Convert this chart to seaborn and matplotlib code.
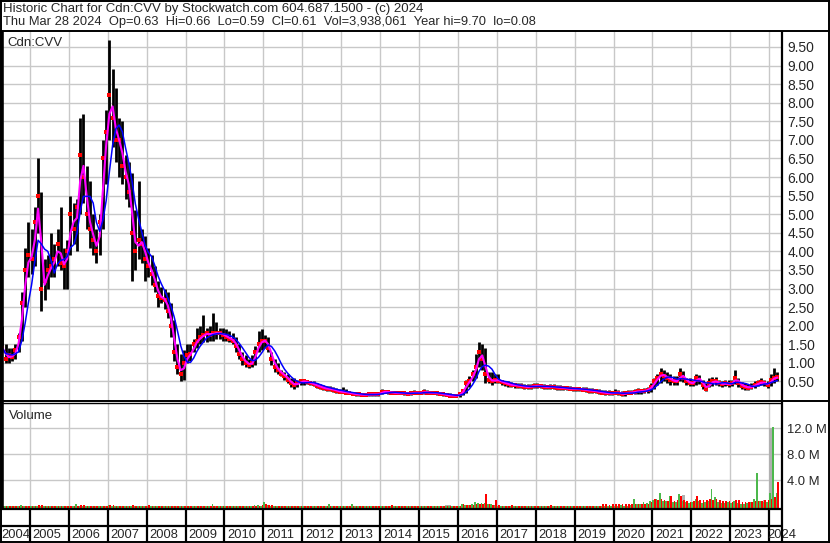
import matplotlib
matplotlib.use("Agg")
import matplotlib.pyplot as plt
import numpy as np
import pandas as pd
import seaborn as sns

# monthly readings, Apr 2004 .. Mar 2024 (price in $)
hi = [2.0, 1.5, 1.4, 1.4, 1.5, 1.8, 2.9, 4.1, 4.8,
      4.6, 5.2, 6.5, 5.6, 3.8, 3.9, 4.5, 4.2, 4.6, 5.2, 4.1, 4.3,
      5.5, 5.3, 5.4, 7.6, 7.7, 6.3, 5.9, 5.0, 4.6, 5.0, 7.0, 7.8,
      9.7, 8.9, 8.4, 7.6, 7.5, 6.6, 6.4, 6.1, 5.1, 5.9, 4.6, 4.4,
      4.1, 3.9, 3.6, 3.2, 3.05, 3.0, 2.9, 2.6, 2.15, 1.5, 1.25, 1.35,
      1.5, 1.5, 1.65, 1.95, 2.0, 2.3, 1.95, 2.0, 2.35, 2.1, 1.95, 1.95,
      1.9, 1.85, 1.8, 1.7, 1.5, 1.3, 1.2, 1.1, 1.2, 1.45, 1.85, 1.9,
      1.75, 1.7, 1.3, 1.1, 1.0, 0.8, 0.75, 0.7, 0.6, 0.6, 0.55, 0.55,
      0.55, 0.55, 0.52, 0.5, 0.45, 0.42, 0.4, 0.38, 0.38, 0.35, 0.32, 0.3,
      0.35, 0.3, 0.25, 0.22, 0.2, 0.2, 0.18, 0.2, 0.2, 0.22, 0.2, 0.2,
      0.3, 0.28, 0.26, 0.25, 0.24, 0.24, 0.24, 0.22, 0.22, 0.25, 0.26, 0.25,
      0.25, 0.3, 0.28, 0.24, 0.24, 0.22, 0.22, 0.2, 0.18, 0.18, 0.16, 0.16,
      0.2, 0.3, 0.55, 0.65, 0.8, 1.25, 1.55, 1.5, 1.4, 0.75, 0.75, 0.7,
      0.7, 0.55, 0.5, 0.5, 0.48, 0.46, 0.45, 0.45, 0.44, 0.42, 0.42, 0.45,
      0.45, 0.44, 0.42, 0.4, 0.42, 0.42, 0.4, 0.4, 0.38, 0.38, 0.37, 0.36,
      0.36, 0.35, 0.34, 0.34, 0.33, 0.32, 0.3, 0.3, 0.28, 0.26, 0.26, 0.25,
      0.3, 0.28, 0.25, 0.25, 0.27, 0.28, 0.3, 0.32, 0.3, 0.32, 0.35, 0.45,
      0.58, 0.7, 0.85, 0.8, 0.75, 0.7, 0.65, 0.65, 0.85, 0.78, 0.6, 0.58,
      0.55, 0.7, 0.68, 0.55, 0.45, 0.6, 0.62, 0.62, 0.55, 0.52, 0.55, 0.55,
      0.55, 0.8, 0.6, 0.48, 0.45, 0.42, 0.45, 0.5, 0.55, 0.6, 0.55, 0.5,
      0.7, 0.85, 0.75]
lo = [1.3, 1.0, 1.0, 1.05, 1.1, 1.3, 1.6, 2.5, 3.3,
      3.4, 3.6, 4.5, 2.4, 2.7, 3.0, 3.3, 3.3, 3.6, 3.5, 3.0, 3.0,
      3.9, 4.2, 4.0, 5.0, 5.3, 4.6, 4.1, 3.9, 3.7, 3.9, 4.6, 5.8,
      7.0, 6.8, 6.4, 6.0, 5.8, 5.4, 5.2, 3.2, 3.5, 3.8, 3.7, 3.2,
      3.3, 3.1, 2.9, 2.5, 2.6, 2.45, 2.2, 1.7, 1.05, 0.7, 0.5, 0.55,
      1.0, 1.05, 1.3, 1.4, 1.5, 1.55, 1.55, 1.6, 1.6, 1.65, 1.65, 1.6,
      1.6, 1.55, 1.5, 1.3, 1.1, 0.95, 0.9, 0.85, 0.9, 0.95, 1.3, 1.35,
      1.4, 1.3, 0.95, 0.75, 0.7, 0.65, 0.55, 0.45, 0.35, 0.3, 0.35, 0.4,
      0.4, 0.42, 0.4, 0.38, 0.32, 0.3, 0.28, 0.25, 0.25, 0.22, 0.2, 0.18,
      0.18, 0.18, 0.16, 0.14, 0.12, 0.12, 0.11, 0.11, 0.12, 0.12, 0.12, 0.12,
      0.15, 0.18, 0.17, 0.16, 0.15, 0.15, 0.15, 0.14, 0.13, 0.14, 0.16, 0.15,
      0.15, 0.16, 0.16, 0.15, 0.15, 0.14, 0.14, 0.12, 0.1, 0.1, 0.09, 0.08,
      0.09, 0.14, 0.2, 0.35, 0.5, 0.6, 0.9, 0.8, 0.45, 0.45, 0.4, 0.45,
      0.45, 0.4, 0.38, 0.36, 0.35, 0.33, 0.32, 0.33, 0.3, 0.3, 0.3, 0.32,
      0.32, 0.31, 0.3, 0.3, 0.3, 0.3, 0.28, 0.28, 0.27, 0.26, 0.26, 0.25,
      0.25, 0.24, 0.23, 0.22, 0.2, 0.2, 0.18, 0.16, 0.15, 0.14, 0.13, 0.13,
      0.15, 0.14, 0.1, 0.12, 0.15, 0.15, 0.16, 0.17, 0.17, 0.18, 0.2, 0.22,
      0.3, 0.4, 0.45, 0.5, 0.45, 0.4, 0.4, 0.4, 0.5, 0.48, 0.4, 0.38,
      0.38, 0.4, 0.42, 0.3, 0.25, 0.35, 0.38, 0.4, 0.38, 0.35, 0.38, 0.35,
      0.38, 0.42, 0.35, 0.3, 0.28, 0.28, 0.3, 0.33, 0.38, 0.4, 0.38, 0.33,
      0.38, 0.45, 0.5]
cl = [1.4, 1.1, 1.2, 1.15, 1.35, 1.7, 2.6, 3.5, 3.9,
      3.8, 4.8, 5.5, 3.0, 3.2, 3.5, 3.6, 3.8, 4.2, 3.7, 3.6, 4.0,
      5.0, 4.6, 5.2, 6.6, 6.0, 5.0, 4.6, 4.3, 4.0, 4.8, 6.5, 7.2,
      8.2, 7.6, 7.0, 7.0, 6.3, 6.0, 5.6, 4.5, 4.0, 4.3, 4.2, 3.8,
      3.6, 3.4, 3.1, 2.8, 2.75, 2.7, 2.4, 2.0, 1.3, 0.9, 0.7, 1.0,
      1.2, 1.25, 1.5, 1.6, 1.7, 1.75, 1.8, 1.75, 1.8, 1.8, 1.8, 1.75,
      1.7, 1.65, 1.6, 1.45, 1.25, 1.1, 1.0, 0.95, 1.0, 1.3, 1.5, 1.6,
      1.6, 1.4, 1.1, 0.9, 0.8, 0.7, 0.65, 0.55, 0.45, 0.4, 0.45, 0.5,
      0.5, 0.48, 0.45, 0.42, 0.38, 0.35, 0.32, 0.3, 0.3, 0.27, 0.25, 0.22,
      0.22, 0.2, 0.19, 0.17, 0.15, 0.15, 0.14, 0.14, 0.15, 0.15, 0.15, 0.16,
      0.22, 0.22, 0.21, 0.2, 0.19, 0.18, 0.19, 0.18, 0.17, 0.18, 0.2, 0.19,
      0.19, 0.22, 0.2, 0.19, 0.19, 0.18, 0.17, 0.15, 0.13, 0.12, 0.12, 0.11,
      0.15, 0.25, 0.45, 0.5, 0.7, 0.9, 1.3, 1.1, 0.7, 0.55, 0.5, 0.55,
      0.52, 0.48, 0.45, 0.42, 0.4, 0.4, 0.38, 0.38, 0.35, 0.35, 0.36, 0.38,
      0.38, 0.37, 0.35, 0.35, 0.36, 0.35, 0.33, 0.33, 0.32, 0.31, 0.3, 0.3,
      0.3, 0.29, 0.28, 0.27, 0.25, 0.25, 0.23, 0.22, 0.2, 0.19, 0.18, 0.18,
      0.2, 0.2, 0.15, 0.18, 0.2, 0.2, 0.22, 0.24, 0.23, 0.25, 0.28, 0.35,
      0.5, 0.6, 0.7, 0.65, 0.6, 0.55, 0.5, 0.5, 0.7, 0.6, 0.5, 0.45,
      0.45, 0.6, 0.55, 0.4, 0.3, 0.45, 0.5, 0.5, 0.45, 0.42, 0.45, 0.42,
      0.45, 0.6, 0.45, 0.38, 0.35, 0.33, 0.36, 0.4, 0.45, 0.48, 0.45, 0.4,
      0.55, 0.6, 0.61]

# daily-volume peaks per month, millions of shares
vol_up = [0.05, 0.08, 0.05, 0.05, 0.08, 0.1, 0.15, 0.1, 0.08,
          0.1, 0.08, 0.12, 0.1, 0.05, 0.08, 0.05, 0.1, 0.08, 0.05, 0.08, 0.1,
          0.1, 0.08, 0.3, 0.1, 0.08, 0.05, 0.05, 0.08, 0.05, 0.1, 0.1, 0.12,
          0.15, 0.1, 0.08, 0.05, 0.05, 0.05, 0.05, 0.1, 0.05, 0.05, 0.05, 0.08,
          0.1, 0.05, 0.05, 0.05, 0.05, 0.05, 0.05, 0.05, 0.08, 0.05, 0.1, 0.05,
          0.05, 0.05, 0.08, 0.1, 0.05, 0.1, 0.05, 0.05, 0.4, 0.1, 0.05, 0.05,
          0.05, 0.05, 0.05, 0.05, 0.05, 0.05, 0.05, 0.05, 0.05, 0.15, 0.2, 0.1,
          0.6, 0.15, 0.05, 0.05, 0.05, 0.05, 0.05, 0.05, 0.05, 0.05, 0.05, 0.05,
          0.05, 0.05, 0.05, 0.05, 0.05, 0.05, 0.05, 0.05, 0.3, 0.1, 0.05, 0.05,
          0.05, 0.05, 0.1, 0.3, 0.05, 0.05, 0.05, 0.05, 0.05, 0.05, 0.05, 0.05,
          0.1, 0.05, 0.05, 0.05, 0.05, 0.05, 0.05, 0.05, 0.05, 0.05, 0.05, 0.05,
          0.05, 0.1, 0.05, 0.05, 0.05, 0.05, 0.05, 0.05, 0.05, 0.05, 0.05, 0.05,
          0.05, 0.35, 0.2, 0.15, 0.3, 0.7, 0.5, 0.55, 0.5, 0.3, 0.3, 0.2,
          0.1, 0.1, 0.05, 0.05, 0.05, 0.05, 0.1, 0.05, 0.05, 0.05, 0.05, 0.05,
          0.05, 0.05, 0.1, 0.05, 0.05, 0.05, 0.05, 0.05, 0.05, 0.05, 0.05, 0.05,
          0.05, 0.05, 0.05, 0.05, 0.05, 0.05, 0.1, 0.05, 0.05, 0.1, 0.05, 0.05,
          0.1, 0.1, 0.15, 0.1, 0.1, 0.15, 1.1, 0.3, 0.3, 0.6, 0.5, 0.8,
          1.0, 1.2, 2.0, 0.8, 0.8, 1.6, 0.6, 0.7, 1.9, 0.8, 0.6, 0.5,
          0.6, 1.2, 0.8, 0.5, 0.6, 0.8, 2.6, 1.4, 0.6, 0.5, 0.5, 0.6,
          0.5, 0.8, 0.5, 0.4, 0.4, 0.5, 0.6, 1.2, 5.2, 0.8, 0.6, 0.7,
          2.1, 12.2, 2.1]
vol_dn = [0.1, 0.1, 0.05, 0.08, 0.05, 0.05, 0.1, 0.12, 0.1,
          0.1, 0.1, 0.15, 0.2, 0.1, 0.08, 0.1, 0.08, 0.1, 0.1, 0.08, 0.08,
          0.08, 0.1, 0.1, 0.15, 0.15, 0.1, 0.1, 0.08, 0.05, 0.08, 0.1, 0.12,
          0.15, 0.15, 0.1, 0.08, 0.08, 0.08, 0.05, 0.15, 0.1, 0.1, 0.05, 0.08,
          0.15, 0.08, 0.05, 0.1, 0.05, 0.05, 0.1, 0.1, 0.1, 0.1, 0.08, 0.05,
          0.05, 0.05, 0.05, 0.1, 0.1, 0.1, 0.1, 0.05, 0.1, 0.05, 0.05, 0.1,
          0.05, 0.05, 0.05, 0.1, 0.1, 0.05, 0.05, 0.05, 0.05, 0.1, 0.1, 0.15,
          0.35, 0.2, 0.15, 0.1, 0.1, 0.1, 0.1, 0.1, 0.1, 0.1, 0.1, 0.1,
          0.1, 0.1, 0.1, 0.1, 0.1, 0.1, 0.1, 0.1, 0.05, 0.1, 0.1, 0.1,
          0.1, 0.1, 0.1, 0.1, 0.1, 0.1, 0.05, 0.05, 0.1, 0.05, 0.1, 0.1,
          0.1, 0.1, 0.1, 0.15, 0.1, 0.1, 0.1, 0.1, 0.05, 0.1, 0.05, 0.1,
          0.1, 0.1, 0.1, 0.05, 0.05, 0.05, 0.05, 0.05, 0.05, 0.1, 0.05, 0.05,
          0.05, 0.3, 0.2, 0.2, 0.2, 0.3, 0.3, 0.4, 1.9, 0.3, 0.2, 1.0,
          0.2, 0.1, 0.1, 0.1, 0.15, 0.1, 0.05, 0.1, 0.1, 0.05, 0.1, 0.1,
          0.1, 0.1, 0.05, 0.1, 0.15, 0.1, 0.05, 0.1, 0.05, 0.1, 0.1, 0.05,
          0.1, 0.05, 0.1, 0.1, 0.05, 0.1, 0.05, 0.1, 0.3, 0.3, 0.2, 0.3,
          0.3, 0.3, 0.4, 0.3, 0.3, 0.3, 0.4, 0.3, 0.3, 0.4, 0.4, 0.6,
          1.1, 0.9, 1.2, 1.0, 0.8, 1.6, 0.8, 0.9, 1.6, 1.0, 0.8, 0.7,
          0.8, 1.6, 1.0, 1.0, 0.9, 1.2, 1.0, 1.1, 0.9, 0.8, 0.8, 0.8,
          0.7, 0.9, 0.95, 0.7, 0.6, 0.6, 0.7, 0.8, 0.8, 0.8, 1.0, 1.0,
          1.2, 1.5, 3.8]
vol_flat = ([0.0] * 137 + [0.2, 0.2] + [0.0] * 71 + [1.7] + [0.0] * 24
            + [0.9, 0.0, 12.0, 0.0, 0.0])

years = list(range(2004, 2025))
price_ticks = [0.5, 1.0, 1.5, 2.0, 2.5, 3.0, 3.5, 4.0, 4.5, 5.0,
               5.5, 6.0, 6.5, 7.0, 7.5, 8.0, 8.5, 9.0, 9.5]
vol_ticks = [4, 8, 12]
vol_labels = ["4.0 M", "8.0 M", "12.0 M"]

header1 = "Historic Chart for Cdn:CVV by Stockwatch.com 604.687.1500 - (c) 2024"
header2 = "Thu Mar 28 2024  Op=0.63  Hi=0.66  Lo=0.59  Cl=0.61  Vol=3,938,061  Year hi=9.70  lo=0.08"

months = pd.date_range("2004-04-01", periods=len(cl), freq="MS")
df = pd.DataFrame({
    "t": months.year + (months.month - 1) / 12 + 1 / 24,
    "hi": hi, "lo": lo, "cl": cl,
    "up": vol_up, "dn": vol_dn, "flat": vol_flat,
})
df["ma_fast"] = df["cl"].rolling(2, min_periods=1).mean()
df["ma_slow"] = df["cl"].rolling(5, min_periods=1).mean()

sns.set_style("white")
plt.rcParams["font.family"] = ["Liberation Sans", "DejaVu Sans"]

W, H = 830, 543
X0, X1 = 2004.23, 2024.33
GRID = "#c8c8c8"


def box(x0, y0, x1, y1):
    return [x0 / W, 1 - y1 / H, (x1 - x0) / W, (y1 - y0) / H]


fig = plt.figure(figsize=(W / 100, H / 100), dpi=100)
fig.patch.set_facecolor("white")

# price panel
ax = fig.add_axes(box(0, 31, 782, 400))
ax.set_xlim(X0, X1)
ax.set_ylim(0, 9.93)
ax.set_xticks(years[1:])
ax.set_yticks(price_ticks)
ax.grid(True, color=GRID, lw=1.0)
ax.vlines(df["t"], df["lo"], df["hi"], color="black", lw=2.0, zorder=2)
sns.scatterplot(data=df, x="t", y="cl", color="red", marker="s", s=6,
                linewidth=0, ax=ax, zorder=3)
sns.lineplot(data=df, x="t", y="ma_fast", color="#ff00ff", lw=1.5, ax=ax, zorder=4)
sns.lineplot(data=df, x="t", y="ma_slow", color="#0000ff", lw=1.1, ax=ax, zorder=5)
ax.yaxis.tick_right()
ax.set_yticklabels([f"{v:.2f}" for v in price_ticks])
ax.tick_params(axis="y", length=0, pad=4, labelsize=10)
ax.tick_params(axis="x", length=0, labelbottom=False)
ax.set_xlabel("")
ax.set_ylabel("")
for s in ax.spines.values():
    s.set_visible(False)
ax.text(0.01, 0.985, "Cdn:CVV", transform=ax.transAxes, ha="left", va="top", fontsize=9.5)

# volume panel
av = fig.add_axes(box(0, 403, 782, 509))
vb = -0.4
av.set_xlim(X0, X1)
av.set_ylim(-0.415, 15.9)
av.set_xticks(years[1:])
av.set_yticks(vol_ticks)
av.grid(True, color=GRID, lw=1.0)
av.bar(df["t"], df["flat"] - vb, bottom=vb, width=1 / 12, color="#b0b0b0", lw=0, zorder=2)
av.bar(df["t"] - 1 / 48, df["up"] - vb, bottom=vb, width=1 / 24, color="#4cb84c", lw=0, zorder=3)
av.bar(df["t"] + 1 / 48, df["dn"] - vb, bottom=vb, width=1 / 24, color="#ff0000", lw=0, zorder=3)
av.yaxis.tick_right()
av.set_yticklabels(vol_labels)
av.tick_params(axis="y", length=0, pad=3.5, labelsize=9.4)
av.tick_params(axis="x", length=0, labelbottom=False)
for s in av.spines.values():
    s.set_visible(False)
av.text(0.011, 0.93, "Volume", transform=av.transAxes, ha="left", va="top", fontsize=9.5)

# year strip
ay = fig.add_axes(box(0, 509, 782, 542))
ay.set_xlim(X0, X1)
ay.set_ylim(542, 509)
ay.axis("off")
ay.vlines(years[1:], 509, 542, color="black", lw=1.6)
ay.axhline(526, color="black", lw=1.6)
for yr in years:
    xt = X0 + 0.03 if yr == years[0] else (yr - 0.06 if yr == years[-1] else yr + 0.07)
    ay.text(xt, 535, str(yr), ha="left", va="center", fontsize=9.3, clip_on=False)

# frame lines in pixel space
ov = fig.add_axes([0, 0, 1, 1], facecolor="none")
ov.set_xlim(0, W)
ov.set_ylim(H, 0)
ov.axis("off")
k = dict(color="black", solid_capstyle="butt")
ov.plot([0, W], [1, 1], lw=1.4, **k)
ov.plot([0, W], [30.5, 30.5], lw=1.4, **k)
ov.plot([0, W], [541.8, 541.8], lw=1.4, **k)
ov.plot([829, 829], [0, H], lw=1.4, **k)
ov.plot([1, 1], [0, H], lw=1.4, **k)
ov.plot([1.5, 1.5], [31, 509], lw=2.6, **k)
ov.plot([782, 782], [31, H], lw=1.6, **k)
ov.plot([0, W], [400.5, 400.5], lw=1.4, **k)
ov.plot([0, 782], [403, 403], lw=1.0, **k)
ov.plot([0, 782], [509.3, 509.3], lw=1.6, **k)
ov.text(3, 9, header1, ha="left", va="center", fontsize=9.5)
ov.text(3, 22, header2, ha="left", va="center", fontsize=9.3)

fig.savefig("out.png", dpi=100)
